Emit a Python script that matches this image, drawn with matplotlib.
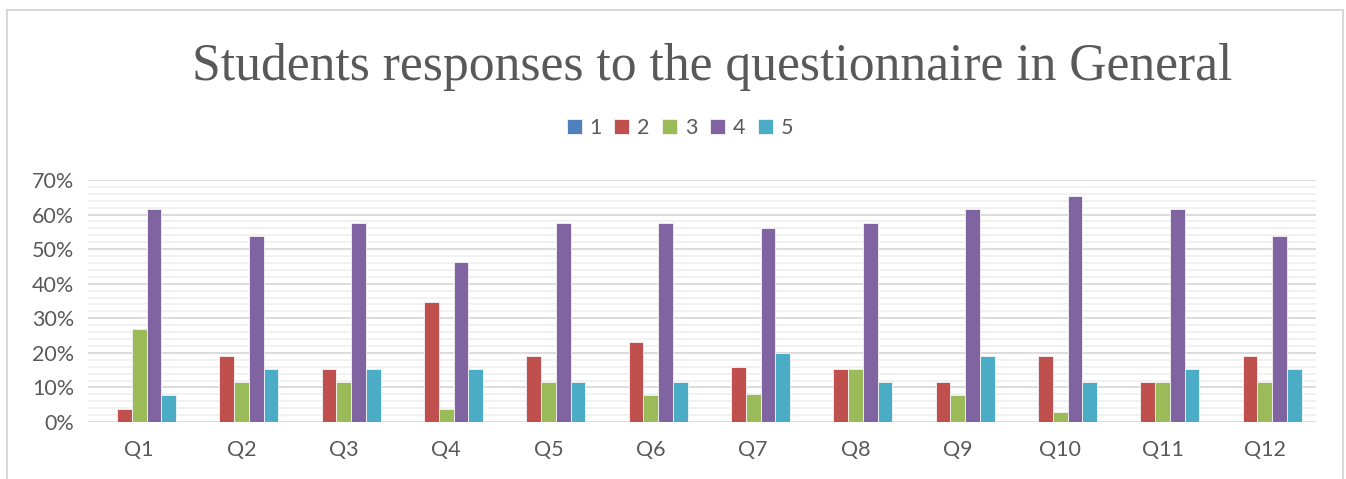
import matplotlib.pyplot as plt
import numpy as np
from matplotlib.patches import Rectangle

questions = ['Q1', 'Q2', 'Q3', 'Q4', 'Q5', 'Q6', 'Q7', 'Q8', 'Q9', 'Q10', 'Q11', 'Q12']
series_names = ['1', '2', '3', '4', '5']
s1 = [0, 0, 0, 0, 0, 0, 0, 0, 0, 0, 0, 0]
s2 = [3.85, 19.23, 15.38, 34.62, 19.23, 23.08, 16.0, 15.38, 11.54, 19.23, 11.54, 19.23]
s3 = [26.92, 11.54, 11.54, 3.85, 11.54, 7.69, 8.0, 15.38, 7.69, 2.9, 11.54, 11.54]
s4 = [61.54, 53.85, 57.69, 46.15, 57.69, 57.69, 56.0, 57.69, 61.54, 65.38, 61.54, 53.85]
s5 = [7.69, 15.38, 15.38, 15.38, 11.54, 11.54, 20.0, 11.54, 19.23, 11.54, 15.38, 15.38]
colors = ['#4F81BD', '#C0504D', '#9BBB59', '#8064A2', '#4BACC6']

fig = plt.figure(figsize=(13.46, 4.79), dpi=100)
ax = fig.add_axes([0.0654, 0.119, 0.9123, 0.5052])

# cadre du graphique
fig.patches.append(Rectangle((7 / 1346, -0.1), 1336 / 1346, 1.1 - 10 / 479,
                             transform=fig.transFigure, fill=False,
                             edgecolor='#D9D9D9', linewidth=1.5))

x = np.arange(len(questions))
w = 0.144
for i, (vals, name) in enumerate(zip([s1, s2, s3, s4, s5], series_names)):
    ax.bar(x + (i - 2) * w, np.array(vals) / 100, w, color=colors[i],
           edgecolor='#F5F5F5', linewidth=0.6, label=name, zorder=3)

ax.set_xlim(-0.5, len(questions) - 0.5)
ax.set_ylim(0, 0.70)
ax.set_yticks(np.arange(0, 0.71, 0.1))
ax.set_yticklabels([f'{v}%' for v in range(0, 71, 10)])
ax.set_yticks(np.arange(0, 0.70, 0.02), minor=True)
ax.grid(axis='y', which='major', color='#D9D9D9', linewidth=1.3, zorder=0)
ax.grid(axis='y', which='minor', color='#F0F0F0', linewidth=1.3, zorder=0)
ax.set_xticks(x)
ax.set_xticklabels(questions)
for s in ax.spines.values():
    s.set_visible(False)
ax.tick_params(which='both', length=0, labelsize=15.5, labelcolor='#595959')
ax.tick_params(axis='x', pad=13)
ax.tick_params(axis='y', pad=10)
for lab in ax.get_xticklabels() + ax.get_yticklabels():
    lab.set_fontfamily('Lato')

fig.text(712 / 1346, 1 - 67 / 479, 'Students responses to the questionnaire in General',
         ha='center', va='center', fontsize=37.2, color='#595959', family='Liberation Serif')

fig.legend(loc='center', bbox_to_anchor=(680 / 1346, 1 - 128 / 479), ncol=5,
           frameon=False, handlelength=0.7, handleheight=0.7, handletextpad=0.35,
           columnspacing=0.6, prop={'family': 'Lato', 'size': 15.5},
           labelcolor='#595959')

plt.savefig('out.png', dpi=100)
